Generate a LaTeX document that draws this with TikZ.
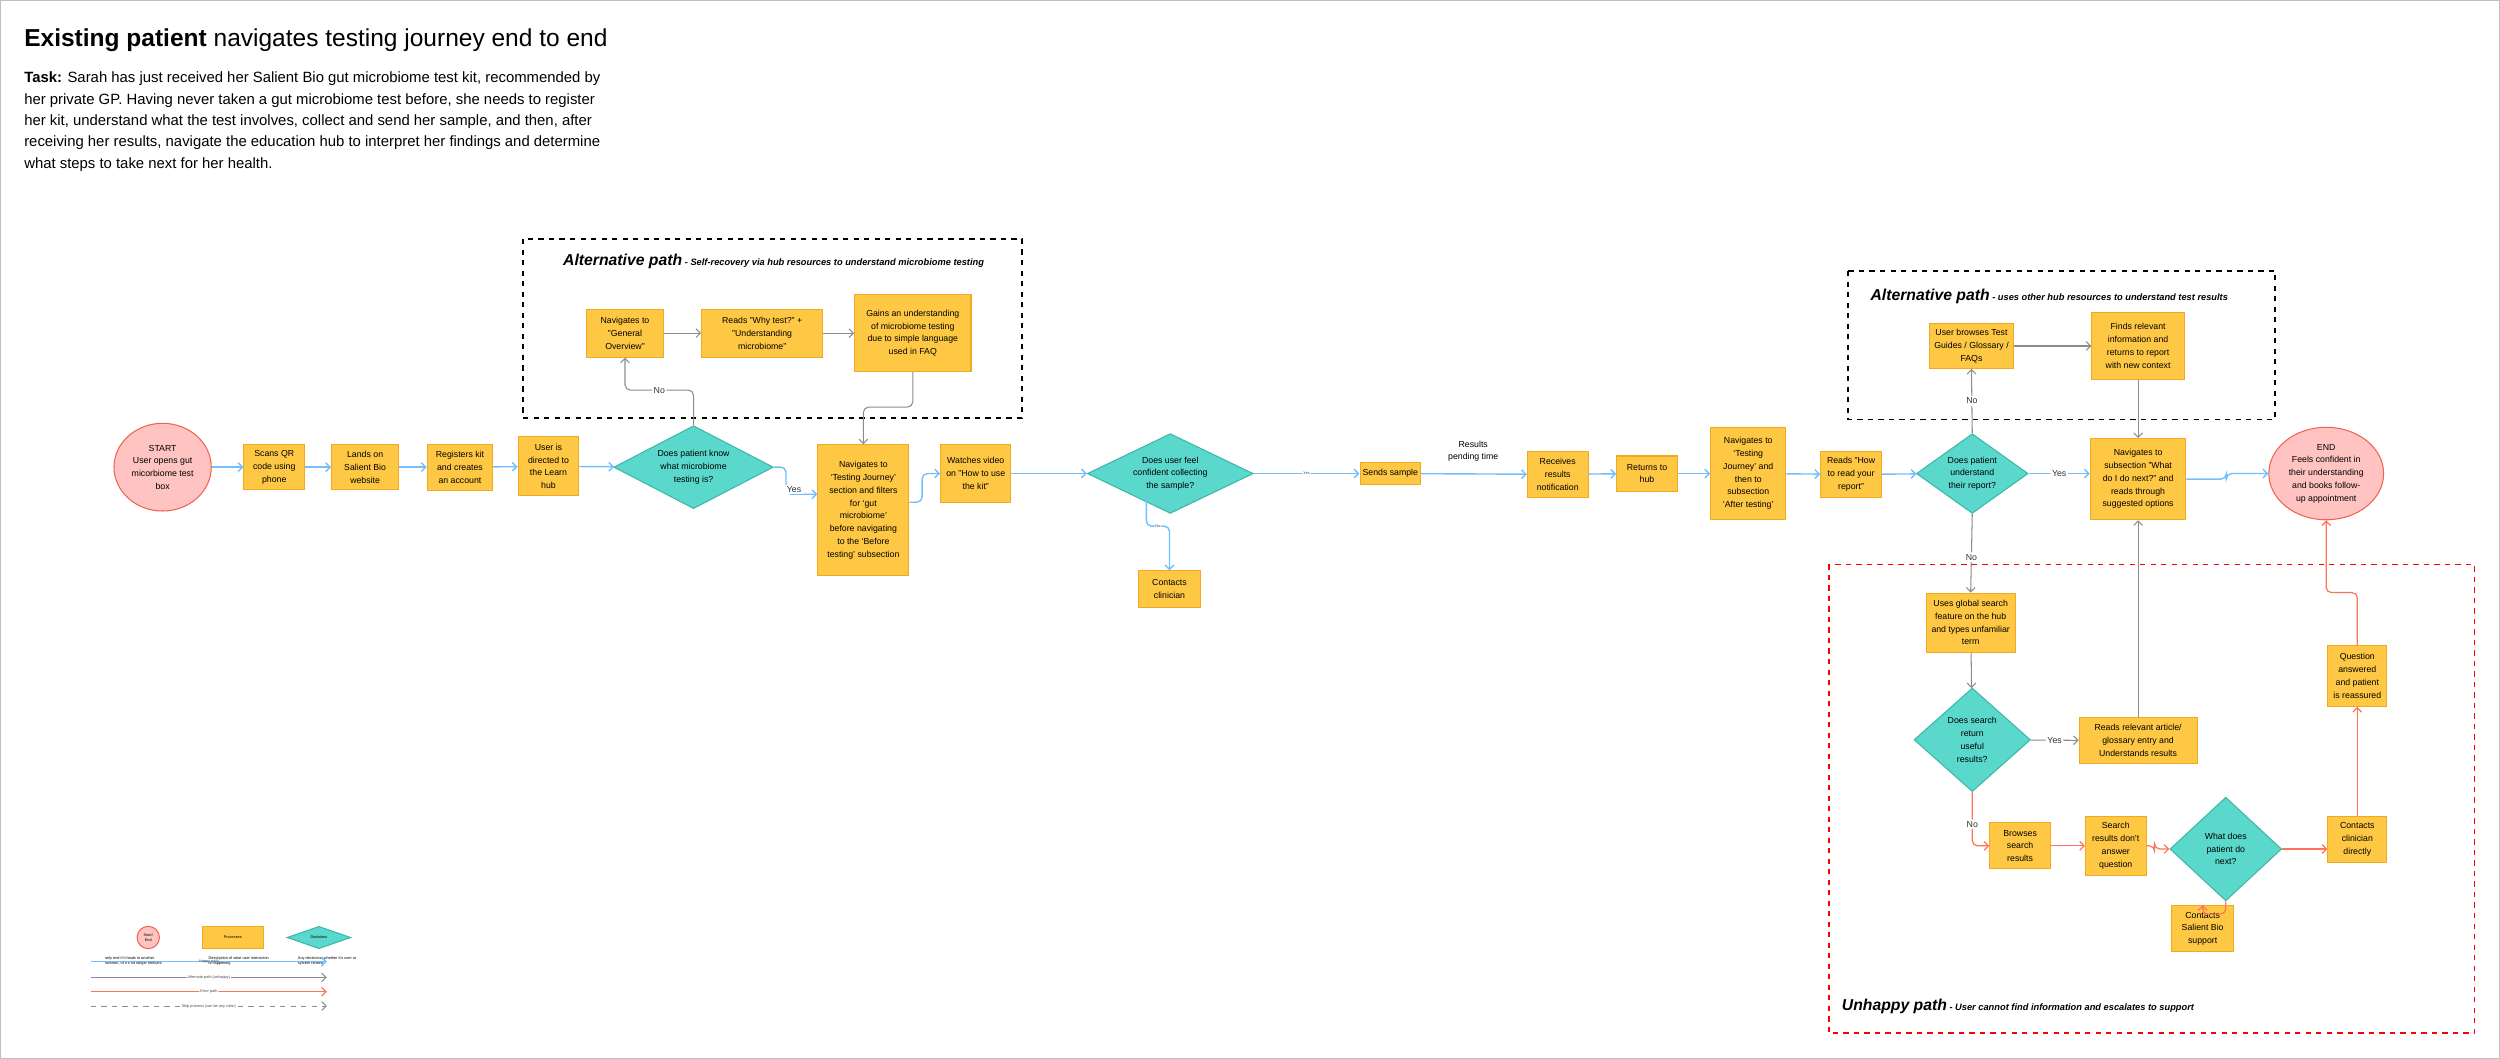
\documentclass[tikz,border=0pt]{standalone}
\usepackage{fontspec}
\setmainfont{Liberation Sans}
\usetikzlibrary{positioning,shapes.geometric,arrows.meta,calc}
\definecolor{procfill}{HTML}{FFC844}
\definecolor{procline}{HTML}{F2A922}
\definecolor{decfill}{HTML}{5AD8CB}
\definecolor{decline}{HTML}{3DB7A8}
\definecolor{endfill}{HTML}{FFC4C1}
\definecolor{endline}{HTML}{F26152}
\definecolor{happyc}{HTML}{72BFFF}
\definecolor{altc}{HTML}{8C8C8C}
\definecolor{errc}{HTML}{FF735A}
\newcommand{\boxfont}{\fontsize{5}{7.3}\selectfont}
\newcommand{\tinyfont}{\fontsize{2.2}{2.8}\selectfont}
\tikzset{
  proc/.style 2 args={draw=procline, fill=procfill, line width=0.6pt,
    minimum width=#1*0.032cm, minimum height=#2*0.032cm,
    inner sep=0pt, align=center, font=\boxfont},
  dec/.style 2 args={diamond, draw=decline, fill=decfill, line width=0.6pt,
    minimum width=#1*0.032cm, minimum height=#2*0.032cm, aspect=2,
    inner sep=0pt, align=center, font=\boxfont},
  term/.style 2 args={ellipse, draw=endline, fill=endfill, line width=0.6pt,
    minimum width=#1*0.032cm, minimum height=#2*0.032cm,
    inner sep=0pt, align=center, font=\boxfont},
  happy/.style={draw=happyc, line width=0.8pt, rounded corners=3pt, -{Straight Barb[length=2.5pt,width=5pt]}},
  alt/.style={draw=altc, line width=0.6pt, rounded corners=3pt, -{Straight Barb[length=2.5pt,width=5pt]}},
  err/.style={draw=errc, line width=0.7pt, rounded corners=3pt, -{Straight Barb[length=2.5pt,width=5pt]}},
  lbl/.style={fill=white, inner sep=1pt, font=\boxfont, text=black!80},
  tinylbl/.style={fill=white, inner sep=0.5pt, font=\tinyfont, text=black!70},
  group/.style={dashed, line width=0.9pt},
  heading/.style={anchor=west, inner sep=0pt},
}
\begin{document}
\begin{tikzpicture}[x=0.032cm, y=-0.032cm]
\useasboundingbox (0,0) rectangle (1568,664);
\draw[black!25, line width=0.8pt] (0,0) rectangle (1568,664);

% title and task
\node[heading, font=\fontsize{14}{16}\selectfont] (title) at (15,25)
  {\textbf{Existing patient} navigates testing journey end to end};
\node[heading, anchor=north west, align=left, font=\fontsize{8.5}{12.2}\selectfont] (task) at (15,45)
  {\textbf{Task:} Sarah has just received her Salient Bio gut microbiome test kit, recommended by\\
   her private GP. Having never taken a gut microbiome test before, she needs to register\\
   her kit, understand what the test involves, collect and send her sample, and then, after\\
   receiving her results, navigate the education hub to interpret her findings and determine\\
   what steps to take next for her health.};

% groups
\draw[group] (328,150) rectangle (641,262);
\node[heading] (alt1) at (353,164) {\fontsize{9}{10}\selectfont\bfseries\itshape Alternative path\fontsize{5.3}{6}\selectfont\ - Self-recovery via hub resources to understand microbiome testing};
\draw[group] (1159,170) rectangle (1427,263);
\node[heading] (alt2) at (1173,186) {\fontsize{9}{10}\selectfont\bfseries\itshape Alternative path\fontsize{5.3}{6}\selectfont\ - uses other hub resources to understand test results};
\draw[group, red] (1147,354) rectangle (1552,648);
\node[heading] (unhappy) at (1155,631) {\fontsize{9}{10}\selectfont\bfseries\itshape Unhappy path\fontsize{5.3}{6}\selectfont\ - User cannot find information and escalates to support};

% main row
\node[term={61}{55}] (start) at (102,293) {START\\User opens gut\\micorbiome test\\box};
\node[proc={38}{28}] (scan) at (172,293) {Scans QR\\code using\\phone};
\node[proc={42}{28}] (lands) at (229,293) {Lands on\\Salient Bio\\website};
\node[proc={41}{29}] (reg) at (288.5,293) {Registers kit\\and creates\\an account};
\node[proc={38}{37}] (learn) at (344,292.5) {User is\\directed to\\the Learn\\hub};
\node[dec={100}{52}] (dknow) at (435,293) {Does patient know\\what microbiome\\testing is?};
\node[proc={57}{82}] (tj) at (541.5,320) {Navigates to\\‘Testing Journey’\\section and filters\\for ‘gut\\microbiome’\\before navigating\\to the ‘Before\\testing’ subsection};
\node[proc={44}{36}] (video) at (612,297) {Watches video\\on "How to use\\the kit"};
\node[dec={104}{50}] (dconf) at (734,297) {Does user feel\\confident collecting\\the sample?};
\node[proc={39}{23}] (clin) at (733.5,369.5) {Contacts\\clinician};
\node[proc={38}{14}] (send) at (872,297) {Sends sample};
\node[proc={38}{29}] (recv) at (977,297.5) {Receives\\results\\notification};
\node[proc={38}{22}] (hub) at (1033,297) {Returns to\\hub};
\node[proc={47}{58}] (after) at (1096.5,297) {Navigates to\\‘Testing\\Journey’ and\\then to\\subsection\\‘After testing’};
\node[proc={38}{29}] (howto) at (1161,297.5) {Reads "How\\to read your\\report"};
\node[dec={70}{50}, aspect=1.5] (dund) at (1237,297) {Does patient\\understand\\their report?};
\node[proc={60}{51}] (next) at (1341,300.5) {Navigates to\\subsection "What\\do I do next?" and\\reads through\\suggested options};
\node[term={72}{58}] (end) at (1459,297) {END\\Feels confident in\\their understanding\\and books follow-\\up appointment};

% first alternative path
\node[proc={48}{30}] (overview) at (392,209) {Navigates to\\"General\\Overview"};
\node[proc={76}{30}] (why) at (478,209) {Reads "Why test?" +\\"Understanding\\microbiome"};
\node[proc={73}{48}] (gain) at (572.5,209) {Gains an understanding\\of microbiome testing\\due to simple language\\used in FAQ};

% second alternative path
\node[proc={53}{28}] (browse) at (1236.5,217) {User browses Test\\Guides / Glossary /\\FAQs};
\node[proc={58}{42}] (finds) at (1341,217) {Finds relevant\\information and\\returns to report\\with new context};

% unhappy path
\node[proc={56}{37}] (search) at (1236,390.5) {Uses global search\\feature on the hub\\and types unfamiliar\\term};
\node[dec={73}{65}, aspect=1.1] (dsearch) at (1237,464) {Does search\\return\\useful\\results?};
\node[proc={74}{29}] (article) at (1341,464.5) {Reads relevant article/\\glossary entry and\\Understands results};
\node[proc={38}{29}] (bres) at (1267,530.5) {Browses\\search\\results};
\node[proc={38}{37}] (sres) at (1327,530.5) {Search\\results don't\\answer\\question};
\node[dec={70}{65}, aspect=1.1] (dnext) at (1396,532.5) {What does\\patient do\\next?};
\node[proc={37}{29}] (cdirect) at (1478.5,526.5) {Contacts\\clinician\\directly};
\node[proc={37}{38}] (reassured) at (1478.5,424) {Question\\answered\\and patient\\is reassured};
\node[proc={39}{29}] (support) at (1381.5,582.5) {Contacts\\Salient Bio\\support};

% happy path
\draw[happy] (start) -- (scan);
\draw[happy] (scan) -- (lands);
\draw[happy] (lands) -- (reg);
\draw[happy] (reg) -- (learn);
\draw[happy] (learn) -- (dknow);
\draw[happy] (dknow.east) -- (493,293) |- ($(tj.west)+(0,-10)$);
\node[lbl] (yes1) at (498,307) {Yes};
\draw[happy] (tj.east |- 0,315) -- ++(8,0) |- (video.west);
\draw[happy] (video) -- (dconf);
\draw[happy] (dconf.east) -- node[tinylbl]{Yes} (send.west);
\coordinate (conf-low) at (719,310);
\draw[happy] (conf-low) |- node[tinylbl, pos=0.75]{No} (clin.north |- 0,330) -- (clin.north);
\draw[happy] (send) -- (recv);
\node[font=\boxfont, align=center] (pending) at (924,283) {Results\\pending time};
\draw[happy] (recv) -- (hub);
\draw[happy] (hub) -- (after);
\draw[happy] (after) -- (howto);
\draw[happy] (howto) -- (dund);
\draw[happy] (dund.east) -- node[lbl]{Yes} (next.west |- dund.east);
\draw[happy] (next.east) -- ++(25,0) |- (end.west);

% alternative paths
\draw[alt] (dknow.north) -- ++(0,-22) -| node[lbl, pos=0.25]{No} (overview.south);
\draw[alt] (overview) -- (why);
\draw[alt] (why) -- (gain);
\draw[alt] (gain.south) -- ++(0,22) -| (tj.north);
\draw[alt] (dund.north) -- node[lbl]{No} (browse.south);
\draw[alt] (browse) -- (finds);
\draw[alt] (finds) -- (next);
\draw[alt] (dund.south) -- node[lbl, pos=0.55]{No} (search.north);
\draw[alt] (search) -- (dsearch);
\draw[alt] (dsearch) -- node[lbl]{Yes} (article);
\draw[alt] (article) -- (next);

% error path
\draw[err] (dsearch.south) |- node[lbl, pos=0.3]{No} (bres.west);
\draw[err] (bres) -- (sres);
\draw[err] (sres.east) -- ++(5,0) |- (dnext.west);
\draw[err] (dnext.east) -- (cdirect.west |- dnext.east);
\draw[err] (dnext.south) -- ++(0,8) -| (support.north);
\draw[err] (cdirect) -- (reassured);
\draw[err] (reassured.north) -- ++(0,-33) -| (end.south);

% legend
\node[term={14}{14}, font=\tinyfont] (key-end) at (93,588) {Start/\\End};
\node[proc={38}{14}, font=\tinyfont] (key-proc) at (146,588) {Processes};
\node[dec={40}{14}, font=\tinyfont] (key-dec) at (200,588) {Decisions};
\node[font=\tinyfont, anchor=north west, align=left] (key-t1) at (62,596) {only end if it leads to another\\function, or it's no longer relevant};
\node[font=\tinyfont, anchor=north west, align=left] (key-t2) at (127,596) {Description of what user interaction\\is happening};
\node[font=\tinyfont, anchor=north west, align=left] (key-t3) at (183,596) {Any decisions, whether it's user or\\system related.};
\coordinate (k1a) at (57,603); \coordinate (k1b) at (205,603);
\coordinate (k2a) at (57,613); \coordinate (k2b) at (205,613);
\coordinate (k3a) at (57,622); \coordinate (k3b) at (205,622);
\coordinate (k4a) at (57,631); \coordinate (k4b) at (205,631);
\draw[happy] (k1a) -- node[tinylbl, fill=none]{Happy path} (k1b);
\draw[alt] (k2a) -- node[tinylbl]{Alternate path (unhappy)} (k2b);
\draw[err] (k3a) -- node[tinylbl]{Error path} (k3b);
\draw[alt, dashed] (k4a) -- node[tinylbl]{Skip process (can be any color)} (k4b);
\end{tikzpicture}
\end{document}
